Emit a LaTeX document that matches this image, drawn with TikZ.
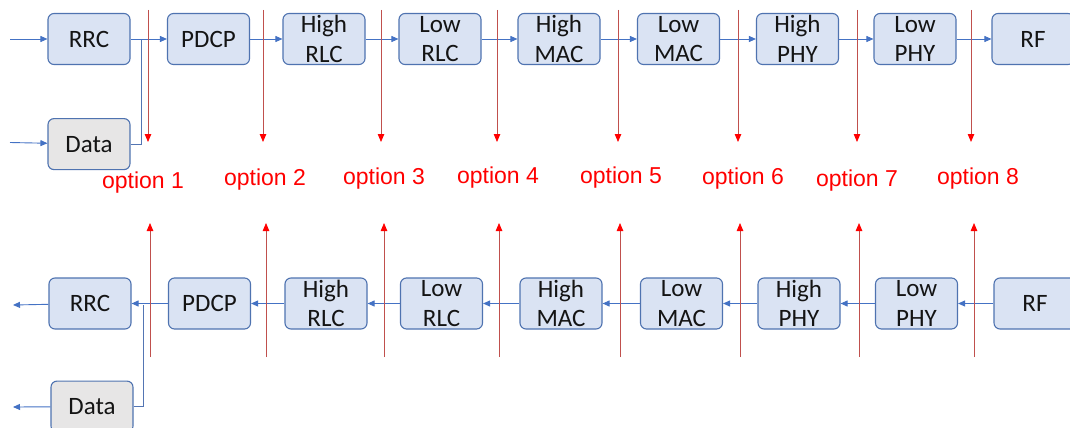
\documentclass[tikz,border=0pt]{standalone}
\usepackage{fontspec}
\newfontfamily\boxfont{Carlito}
\newfontfamily\optfont{Liberation Sans}
\usepackage{xcolor}
\usetikzlibrary{arrows.meta,positioning}

\definecolor{boxfill}{HTML}{DAE3F3}
\definecolor{boxline}{HTML}{4F73B0}
\definecolor{datafill}{HTML}{E7E6E6}
\definecolor{flow}{HTML}{4472C4}
\definecolor{cutline}{HTML}{C0504D}
\definecolor{optred}{HTML}{FF0000}

\begin{document}
\begin{tikzpicture}[
      x=1pt,y=-1pt,
      block/.style={
        rectangle,
        draw=boxline,
        line width=1.1pt,
        fill=boxfill,
        minimum width=82pt,
        minimum height=51pt,
        inner sep=0pt,
        rounded corners=6pt,
        align=center,
        text=black!92,
        font=\boxfont\fontsize{25}{29.5}\selectfont
      },
      datablock/.style={block,fill=datafill},
      arrow/.style={-{Triangle[length=7pt,width=6pt]},draw=flow,line width=0.9pt},
      feed/.style={draw=flow!75!gray,line width=0.9pt},
      cut/.style={-{Triangle[length=8pt,width=6.5pt,color=optred]},draw=cutline,line width=0.8pt},
      option/.style={text=optred,font=\optfont\fontsize{23}{26}\selectfont}
    ]
    \useasboundingbox (0,0) rectangle (1070,428);

    % Downlink chain (top)
    \node[block] (rrc) at (89,39) {RRC};
    \node[block] (pdcp) at (208.5,39) {PDCP};
    \node[block] (hrlc) at (324,39) {High\\RLC};
    \node[block] (lrlc) at (440,39) {Low\\RLC};
    \node[block] (hmac) at (559,39) {High\\MAC};
    \node[block] (lmac) at (678.5,39) {Low\\MAC};
    \node[block] (hphy) at (797.5,39) {High\\PHY};
    \node[block] (lphy) at (915,39) {Low\\PHY};
    \node[block] (rf) at (1033,39) {RF};
    \node[datablock,below=53pt of rrc] (data) {Data};

    \coordinate (rrcin) at (10,39);
    \coordinate (datain) at (10,142.5);
    \coordinate (jtop) at (141,39);
    \draw[arrow] (rrcin) to (rrc);
    \draw[arrow] (datain) to (data);
    \draw[feed] (data.east) -| (jtop);
    \draw[arrow] (rrc) to (pdcp);
    \draw[arrow] (pdcp) to (hrlc);
    \draw[arrow] (hrlc) to (lrlc);
    \draw[arrow] (lrlc) to (hmac);
    \draw[arrow] (hmac) to (lmac);
    \draw[arrow] (lmac) to (hphy);
    \draw[arrow] (hphy) to (lphy);
    \draw[arrow] (lphy) to (rf);

    % Uplink chain (bottom)
    \node[block] (urrc) at (90,303.5) {RRC};
    \node[block] (updcp) at (209.5,303.5) {PDCP};
    \node[block] (uhrlc) at (326,303.5) {High\\RLC};
    \node[block] (ulrlc) at (441.5,303.5) {Low\\RLC};
    \node[block] (uhmac) at (561,303.5) {High\\MAC};
    \node[block] (ulmac) at (681.5,303.5) {Low\\MAC};
    \node[block] (uhphy) at (799,303.5) {High\\PHY};
    \node[block] (ulphy) at (916.5,303.5) {Low\\PHY};
    \node[block] (urf) at (1035,303.5) {RF};
    \node[datablock,below=51pt of urrc,xshift=2pt] (udata) {Data};

    \coordinate (rrcout) at (13,305);
    \coordinate (dataout) at (13,407);
    \coordinate (jbot) at (143,305);
    \draw[arrow] (urrc) to (rrcout);
    \draw[arrow] (udata) to (dataout);
    \draw[feed] (udata.east) -| (jbot);
    \draw[arrow] (updcp) to (urrc);
    \draw[arrow] (uhrlc) to (updcp);
    \draw[arrow] (ulrlc) to (uhrlc);
    \draw[arrow] (uhmac) to (ulrlc);
    \draw[arrow] (ulmac) to (uhmac);
    \draw[arrow] (uhphy) to (ulmac);
    \draw[arrow] (ulphy) to (uhphy);
    \draw[arrow] (urf) to (ulphy);

    % Split options
    \foreach \i/\xt/\xb/\xl/\yl in {1/148/150/143/183,2/263/266/265/180,3/381/384/384/179,
        4/497/499/498/178,5/618/620/621/178,6/738/740/743/179,7/857/859/857/181,8/971/974/978/179} {
      \coordinate (cut\i a) at (\xt,10);
      \coordinate (cut\i b) at (\xt,142);
      \coordinate (cut\i c) at (\xb,357);
      \coordinate (cut\i d) at (\xb,223);
      \draw[cut] (cut\i a) -- (cut\i b);
      \draw[cut] (cut\i c) -- (cut\i d);
      \node[option] (opt\i) at (\xl,\yl) {option \i};
    }
  \end{tikzpicture}
\end{document}
